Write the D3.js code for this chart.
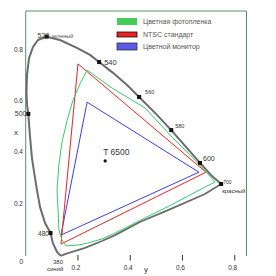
<!DOCTYPE html>
<html><head><meta charset="utf-8">
<script src="https://cdn.jsdelivr.net/npm/d3@7"></script>
<style>body{margin:0;background:#fff}svg{display:block}text{font-family:Arial,"Liberation Sans",sans-serif}</style>
</head><body><svg id="c" width="276" height="276"></svg>
<script>
// Spectral locus, 380 -> 700 nm
const locusX = [0.135,0.120,0.104,0.095,0.074,0.055,0.043,0.032,0.024,0.016,0.010,0.005,0.003,0.005,0.013,0.028,0.047,0.080,0.131,0.196,0.246,0.281,0.334,0.388,0.434,0.495,0.557,0.614,0.667,0.713,0.748];
const locusY = [-0.005,0.010,0.045,0.084,0.123,0.185,0.252,0.322,0.376,0.466,0.548,0.583,0.633,0.700,0.766,0.809,0.836,0.849,0.836,0.805,0.778,0.750,0.708,0.661,0.614,0.552,0.485,0.419,0.357,0.306,0.275];
// Purple line 700 -> 380
const purpleX = [0.748,0.686,0.556,0.437,0.342,0.292,0.227,0.150,0.135];
const purpleY = [0.275,0.236,0.178,0.127,0.076,0.053,0.026,0.002,-0.005];
// Gamuts
const filmX = [0.235,0.330,0.457,0.560,0.648,0.725,0.686,0.621,0.556,0.457,0.342,0.292,0.238,0.200,0.154,0.139,0.127,0.124,0.120,0.127,0.139,0.158,0.181,0.208];
const filmY = [0.719,0.649,0.571,0.458,0.368,0.283,0.263,0.228,0.193,0.143,0.084,0.061,0.045,0.037,0.034,0.057,0.096,0.170,0.252,0.349,0.439,0.521,0.602,0.665];
const ntscX = [0.200,0.690,0.135];
const ntscY = [0.743,0.321,0.041];
const monX = [0.235,0.663,0.135];
const monY = [0.594,0.321,0.076];
// Wavelength markers
const waveNm = [480,500,520,540,560,580,600,700];
const waveX = [0.095,0.010,0.080,0.281,0.434,0.557,0.667,0.748];
const waveY = [0.084,0.548,0.849,0.750,0.614,0.485,0.357,0.275];
const whiteX = [0.304], whiteY = [0.365];
const xTicks = [0.2,0.4,0.6,0.8];
const xTickLabels = ["0.2","0.4","0.6","0.8"];
const yTicks = [0.8,0.6,0.4,0.2];
const yTickLabels = ["0.8","0.6","0.4","0.2"];
const legendLabels = ["Цветная фотопленка","NTSC стандарт","Цветной монитор"];

const svg = d3.select("#c");
const sx = d3.scaleLinear().domain([0,0.845]).range([25.7,246.5]);
const sy = d3.scaleLinear().domain([0,0.949]).range([254.6,11]);
const line = d3.line().x(d=>sx(d[0])).y(d=>sy(d[1]));
const zip = (a,b)=>a.map((v,i)=>[v,b[i]]);

// frame
svg.append("path").attr("d",`M${sx(0)},256V${sy(0.949)}H${sx(0.845)}V256`)
  .attr("fill","none").attr("stroke","#5a9070").attr("stroke-width",1);

// gamut polygons
const tri = (xs,ys,col)=>svg.append("path").attr("d",line(zip(xs,ys))+"Z")
  .attr("fill","none").attr("stroke",col).attr("stroke-width",1);
tri(monX,monY,"#3b3fe0");
tri(ntscX,ntscY,"#ee2222");
tri(filmX,filmY,"#33cc66");

// locus
svg.append("path").attr("d",line(zip(locusX,locusY))).attr("fill","none")
  .attr("stroke","#6c6c6c").attr("stroke-width",2).attr("stroke-linejoin","round");
svg.append("path").attr("d",line(zip(purpleX,purpleY))).attr("fill","none")
  .attr("stroke","#6c6c6c").attr("stroke-width",1.8);

// markers
svg.selectAll("rect.w").data(waveNm).join("rect").attr("class","w")
  .attr("x",(d,i)=>sx(waveX[i])-2).attr("y",(d,i)=>sy(waveY[i])-2)
  .attr("width",4).attr("height",4).attr("fill","#111");
svg.append("circle").attr("cx",sx(whiteX[0])).attr("cy",sy(whiteY[0])).attr("r",1.6).attr("fill","#111");

// wavelength labels
const wl = {480:[-12.5,2.5,6.5,"480"],500:[-13.5,2.5,7,"500"],520:[-9,1.5,7,"520"],540:[5,3,7.5,"540"],560:[6,-3,5.5,"560"],580:[4,-2,5.5,"580"],600:[3,-2,7,"600"],700:[2,0,5,"700"]};
waveNm.forEach((n,i)=>{const o=wl[n];
  svg.append("text").attr("x",sx(waveX[i])+o[0]).attr("y",sy(waveY[i])+o[1])
   .attr("font-size",o[2]).attr("fill","#333").text(o[3]);});
svg.append("text").attr("x",sx(waveX[2])+5).attr("y",sy(waveY[2])+1).attr("font-size",5.5).attr("fill","#555").text("зеленый");
svg.append("text").attr("x",sx(waveX[7])+1).attr("y",sy(waveY[7])+9).attr("font-size",6).attr("fill","#333").text("красный");
svg.append("text").attr("x",sx(locusX[0])-8).attr("y",264).attr("font-size",6).attr("fill","#333").text("380");
svg.append("text").attr("x",sx(locusX[0])-14).attr("y",270.5).attr("font-size",6).attr("fill","#333").text("синий");
svg.append("text").attr("x",sx(whiteX[0])-2).attr("y",sy(whiteY[0])-6).attr("font-size",8.5).attr("fill","#333").text("T 6500");

// axes
xTicks.forEach((t,i)=>{
  svg.append("line").attr("x1",sx(t)).attr("x2",sx(t)).attr("y1",255).attr("y2",260.5).attr("stroke","#333");
  svg.append("text").attr("x",sx(t)-2).attr("y",270).attr("text-anchor","middle").attr("font-size",6.5).attr("fill","#333").text(xTickLabels[i]);
});
yTicks.forEach((t,i)=>{
  svg.append("text").attr("x",23).attr("y",sy(t)+2.3).attr("text-anchor","end").attr("font-size",6.5).attr("fill","#333").text(yTickLabels[i]);
});
svg.append("text").attr("x",sx(0)-4.5).attr("y",264).attr("text-anchor","middle").attr("font-size",7).attr("fill","#333").text("0");
svg.append("text").attr("x",146).attr("y",272).attr("text-anchor","middle").attr("font-size",8).attr("fill","#333").text("y");
svg.append("text").attr("x",16).attr("y",135).attr("text-anchor","middle").attr("font-size",8).attr("fill","#333").text("x");

// legend
const lc = ["#44cc55","#ee2020","#5a5ae8"], ls=["none","#111","#333"], lh=[7,5,7], ly=[18,32,43];
legendLabels.forEach((t,i)=>{
  svg.append("rect").attr("x",117).attr("y",ly[i]).attr("width",20).attr("height",lh[i]).attr("fill",lc[i]).attr("stroke",ls[i]).attr("stroke-width",0.8);
  svg.append("text").attr("x",143).attr("y",ly[i]+lh[i]/2+2.6).attr("font-size",7).attr("fill","#555").text(t);
});
</script></body></html>
